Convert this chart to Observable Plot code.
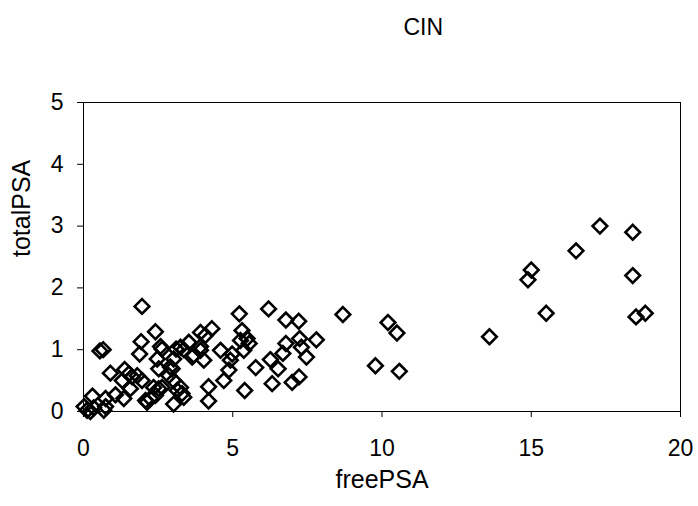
<!DOCTYPE html>
<html><head><meta charset="utf-8">
<script src="https://cdn.jsdelivr.net/npm/d3@7"></script>
<script src="https://cdn.jsdelivr.net/npm/@observablehq/plot@0.6"></script>
<style>body{margin:0;background:#fff;font-family:"Liberation Sans",Arial,sans-serif}</style>
</head><body><div id="chart"></div>
<script>
const title = "CIN";
const xLabel = "freePSA";
const yLabel = "totalPSA";
const xTicks = [0, 5, 10, 15, 20];
const yTicks = [0, 1, 2, 3, 4, 5];
const freePSA = [
 17.3,18.4,16.5,15.0,14.89,18.4,15.5,18.51,18.82,13.6,
 8.69,10.2,10.5,9.78,10.58,
 6.2,6.78,7.21,7.8,7.24,6.78,7.3,7.47,6.68,6.26,6.52,5.77,6.32,6.99,7.22,5.4,5.22,5.31,5.48,5.55,5.26,5.37,
 4.3,4.08,3.92,4.59,4.98,4.92,4.03,4.87,4.7,4.19,4.19,
 3.92,3.92,3.69,3.53,3.25,3.1,3.36,3.64,
 1.96,2.41,1.93,1.88,2.58,2.63,2.47,2.52,2.91,2.97,3.02,2.86,3.02,3.14,3.3,3.25,3.02,3.36,2.35,2.63,2.24,2.41,2.08,2.52,
 0.55,0.66,0.9,1.38,1.52,1.63,1.8,1.96,1.3,1.57,1.07,1.35,0.74,0.3,0.02,0.12,0.34,0.68,0.74,0.23,2.13
];
const totalPSA = [
 3.0,2.9,2.6,2.29,2.13,2.2,1.59,1.53,1.59,1.21,
 1.57,1.44,1.27,0.74,0.65,
 1.66,1.48,1.46,1.16,1.18,1.1,1.04,0.88,0.94,0.84,0.69,0.71,0.45,0.47,0.56,0.34,1.58,1.31,1.18,1.1,1.15,0.99,
 1.34,1.23,0.99,0.99,0.93,0.83,0.83,0.67,0.5,0.4,0.17,
 1.28,1.05,0.91,1.12,1.04,1.01,1.0,0.88,
 1.70,1.29,1.13,0.93,1.05,1.01,0.85,0.69,0.72,0.69,0.85,0.58,0.5,0.34,0.29,0.39,0.12,0.23,0.39,0.39,0.21,0.26,0.18,0.37,
 0.98,1.0,0.62,0.68,0.61,0.56,0.58,0.5,0.5,0.37,0.27,0.21,0.21,0.25,0.08,0.02,0.06,0.02,0.08,0.0,0.15
];
const data = freePSA.map((x, i) => ({x, y: totalPSA[i]}));

const chart = Plot.plot({
  width: 698, height: 506,
  marginLeft: 83, marginRight: 18, marginTop: 102, marginBottom: 95,
  style: {fontFamily: '"Liberation Sans", Arial, sans-serif', fontSize: "23px", color: "#000", background: "#fff", overflow: "visible"},
  x: {domain: [0, 20], label: null},
  y: {domain: [0, 5], label: null},
  marks: [
    Plot.frame({stroke: "#000", strokeWidth: 1}),
    Plot.axisX({ticks: xTicks, tickFormat: d3.format("d"), tickSize: 6, tickPadding: 22, fontSize: 23, stroke: "#000"}),
    Plot.axisY({ticks: yTicks, tickFormat: d3.format("d"), tickSize: 6, tickPadding: 14, fontSize: 23, stroke: "#000"}),
    Plot.dot(data, {x: "x", y: "y", symbol: "diamond2", r: 6.6, stroke: "#000", strokeWidth: 2.6, fill: "none"}),
    Plot.text([title], {frameAnchor: "top-left", dx: 320, dy: -84, fontSize: 23, fill: "#000"}),
    Plot.text([xLabel], {frameAnchor: "bottom", dy: 76, fontSize: 25, fill: "#000"}),
    Plot.text([yLabel], {frameAnchor: "left", dx: -62, rotate: -90, fontSize: 25, fill: "#000"})
  ]
});
document.getElementById("chart").appendChild(chart);
</script>
</body></html>
